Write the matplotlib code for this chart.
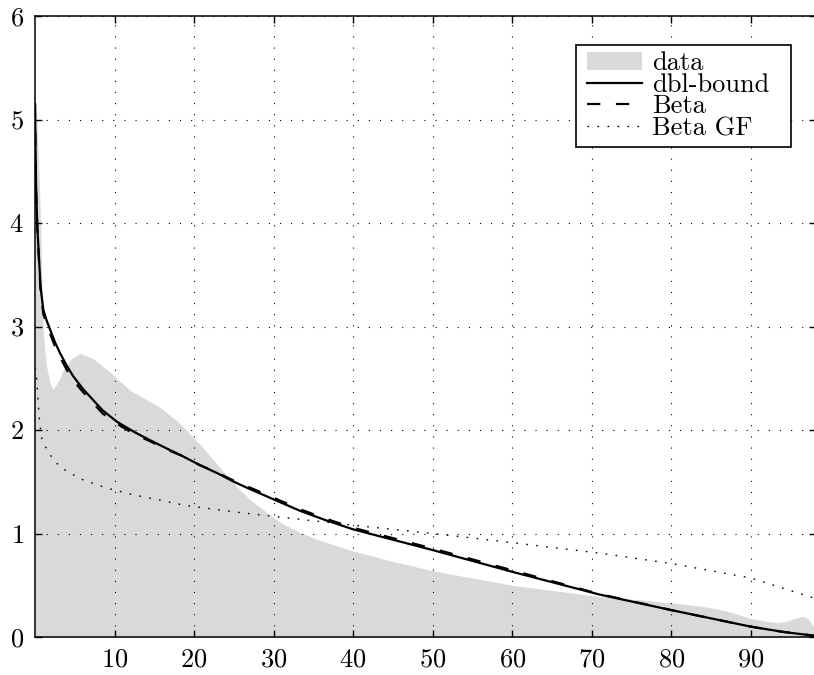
import matplotlib
matplotlib.use("Agg")
import matplotlib.pyplot as plt
from matplotlib.patches import Rectangle

plt.rcParams['font.family'] = ['cmr10', 'DejaVu Serif']
plt.rcParams['axes.formatter.use_mathtext'] = True
plt.rcParams['mathtext.fontset'] = 'cm'

# ---- data ----
x_data = [0, 0.25, 0.5, 0.7, 0.85, 1.0, 1.2, 1.47, 1.9, 2.3, 3.0, 3.56, 4.6, 5.66,
          7.3, 9.4, 12, 15.7, 18, 20.75, 23, 24.9, 27, 29.2, 31, 33.3, 36, 39.6,
          45, 50, 55, 60, 65, 71, 76, 80, 84.5, 87, 90, 92, 93.3, 94.5, 95.5,
          96.6, 97.3, 98.2]
y_data = [5.15, 5.0, 4.5, 4.0, 3.5, 3.0, 2.8, 2.61, 2.45, 2.39, 2.48, 2.58, 2.69, 2.74,
          2.69, 2.56, 2.38, 2.22, 2.08, 1.86, 1.66, 1.49, 1.33, 1.2, 1.1, 1.01, 0.93, 0.84,
          0.73, 0.64, 0.57, 0.5, 0.45, 0.39, 0.36, 0.33, 0.29, 0.25, 0.18, 0.15, 0.14, 0.15, 0.18,
          0.2, 0.17, 0.06]

x_curve = [0, 0.05, 0.15, 0.3, 0.45, 0.7, 1.05, 1.5, 1.9, 2.5, 3.1, 4.0, 4.8, 6.0, 7.3,
           8.5, 10.3, 12.5, 14.5, 16.6, 18.5, 20.75, 23, 25, 27, 30, 33.3, 36.5, 40, 45,
           50, 55, 60, 65, 71, 75.5, 80, 85, 90, 94, 98.2]
y_dbl = [5.15, 4.8, 4.3, 3.95, 3.74, 3.38, 3.16, 3.05, 2.97, 2.85, 2.75, 2.62, 2.52, 2.40, 2.29,
         2.19, 2.08, 1.98, 1.90, 1.82, 1.75, 1.66, 1.58, 1.50, 1.43, 1.33, 1.22, 1.13, 1.04, 0.94,
         0.84, 0.735, 0.63, 0.53, 0.41, 0.335, 0.26, 0.18, 0.10, 0.05, 0.01]
y_beta = [5.15, 4.8, 4.3, 3.93, 3.71, 3.34, 3.12, 3.01, 2.93, 2.81, 2.71, 2.58, 2.48, 2.37, 2.26,
          2.16, 2.06, 1.96, 1.89, 1.81, 1.75, 1.66, 1.585, 1.51, 1.445, 1.345, 1.235, 1.145, 1.055, 0.955,
          0.855, 0.75, 0.645, 0.54, 0.415, 0.338, 0.26, 0.18, 0.10, 0.05, 0.01]

x_gf = [0, 0.2, 0.5, 0.8, 1.3, 2.0, 2.7, 4.0, 6, 9, 12, 19, 26, 33, 40, 50, 58, 71, 80, 90, 98.2]
y_gf = [2.6, 2.5, 2.15, 1.93, 1.84, 1.75, 1.68, 1.6, 1.52, 1.44, 1.38, 1.27, 1.2, 1.14,
        1.08, 1.0, 0.93, 0.81, 0.71, 0.57, 0.37]

x_ticks = [10, 20, 30, 40, 50, 60, 70, 80, 90]
y_ticks = [0, 1, 2, 3, 4, 5, 6]

W, H = 814, 675
fig = plt.figure(figsize=(W / 100, H / 100), dpi=100)
left, right, top, bottom = 35, 816, 16, 637
ax = fig.add_axes([left / W, (H - bottom) / H, (right - left) / W, (bottom - top) / H])

ax.fill_between(x_data, 0, y_data, color='#d9d9d9', linewidth=0, label='data', zorder=1)
ax.plot(x_curve, y_dbl, color='black', lw=1.6, label='dbl-bound', zorder=3)
ax.plot(x_curve, y_beta, color='black', lw=1.6, linestyle=(0, (6.0, 7.0)), label='Beta', zorder=3)
ax.plot(x_gf, y_gf, color='black', lw=1.0, linestyle=(0, (1.2, 6.0)), label='Beta GF', zorder=3)

ax.set_xlim(0, 98.2)
ax.set_ylim(0, 6)
ax.set_xticks(x_ticks)
ax.set_yticks(y_ticks)
ax.tick_params(direction='in', length=5, width=1, labelsize=19, top=True, right=True, pad=8)
ax.grid(True, color='black', linestyle=(0, (1, 9)), linewidth=0.8)
ax.set_axisbelow(False)
for s in ax.spines.values():
    s.set_linewidth(1.1)
    s.set_zorder(5)

# legend frame (pixel box of the reference legend)
lx0, lx1, ly0, ly1 = 576, 791, 45, 147
frame = Rectangle((lx0 / W, 1 - ly1 / H), (lx1 - lx0) / W, (ly1 - ly0) / H,
                  transform=fig.transFigure, facecolor='white', edgecolor='black',
                  linewidth=1.2, zorder=5.5, clip_on=False)
ax.add_patch(frame)

leg = ax.legend(loc='upper left', bbox_to_anchor=(587 / W, 1 - 51.5 / H),
                bbox_transform=fig.transFigure, borderaxespad=0, borderpad=0,
                fontsize=19, frameon=False,
                handlelength=2.1, handletextpad=0.35, labelspacing=-0.08)
leg.set_zorder(6)

fig.savefig('out.png', dpi=100)
